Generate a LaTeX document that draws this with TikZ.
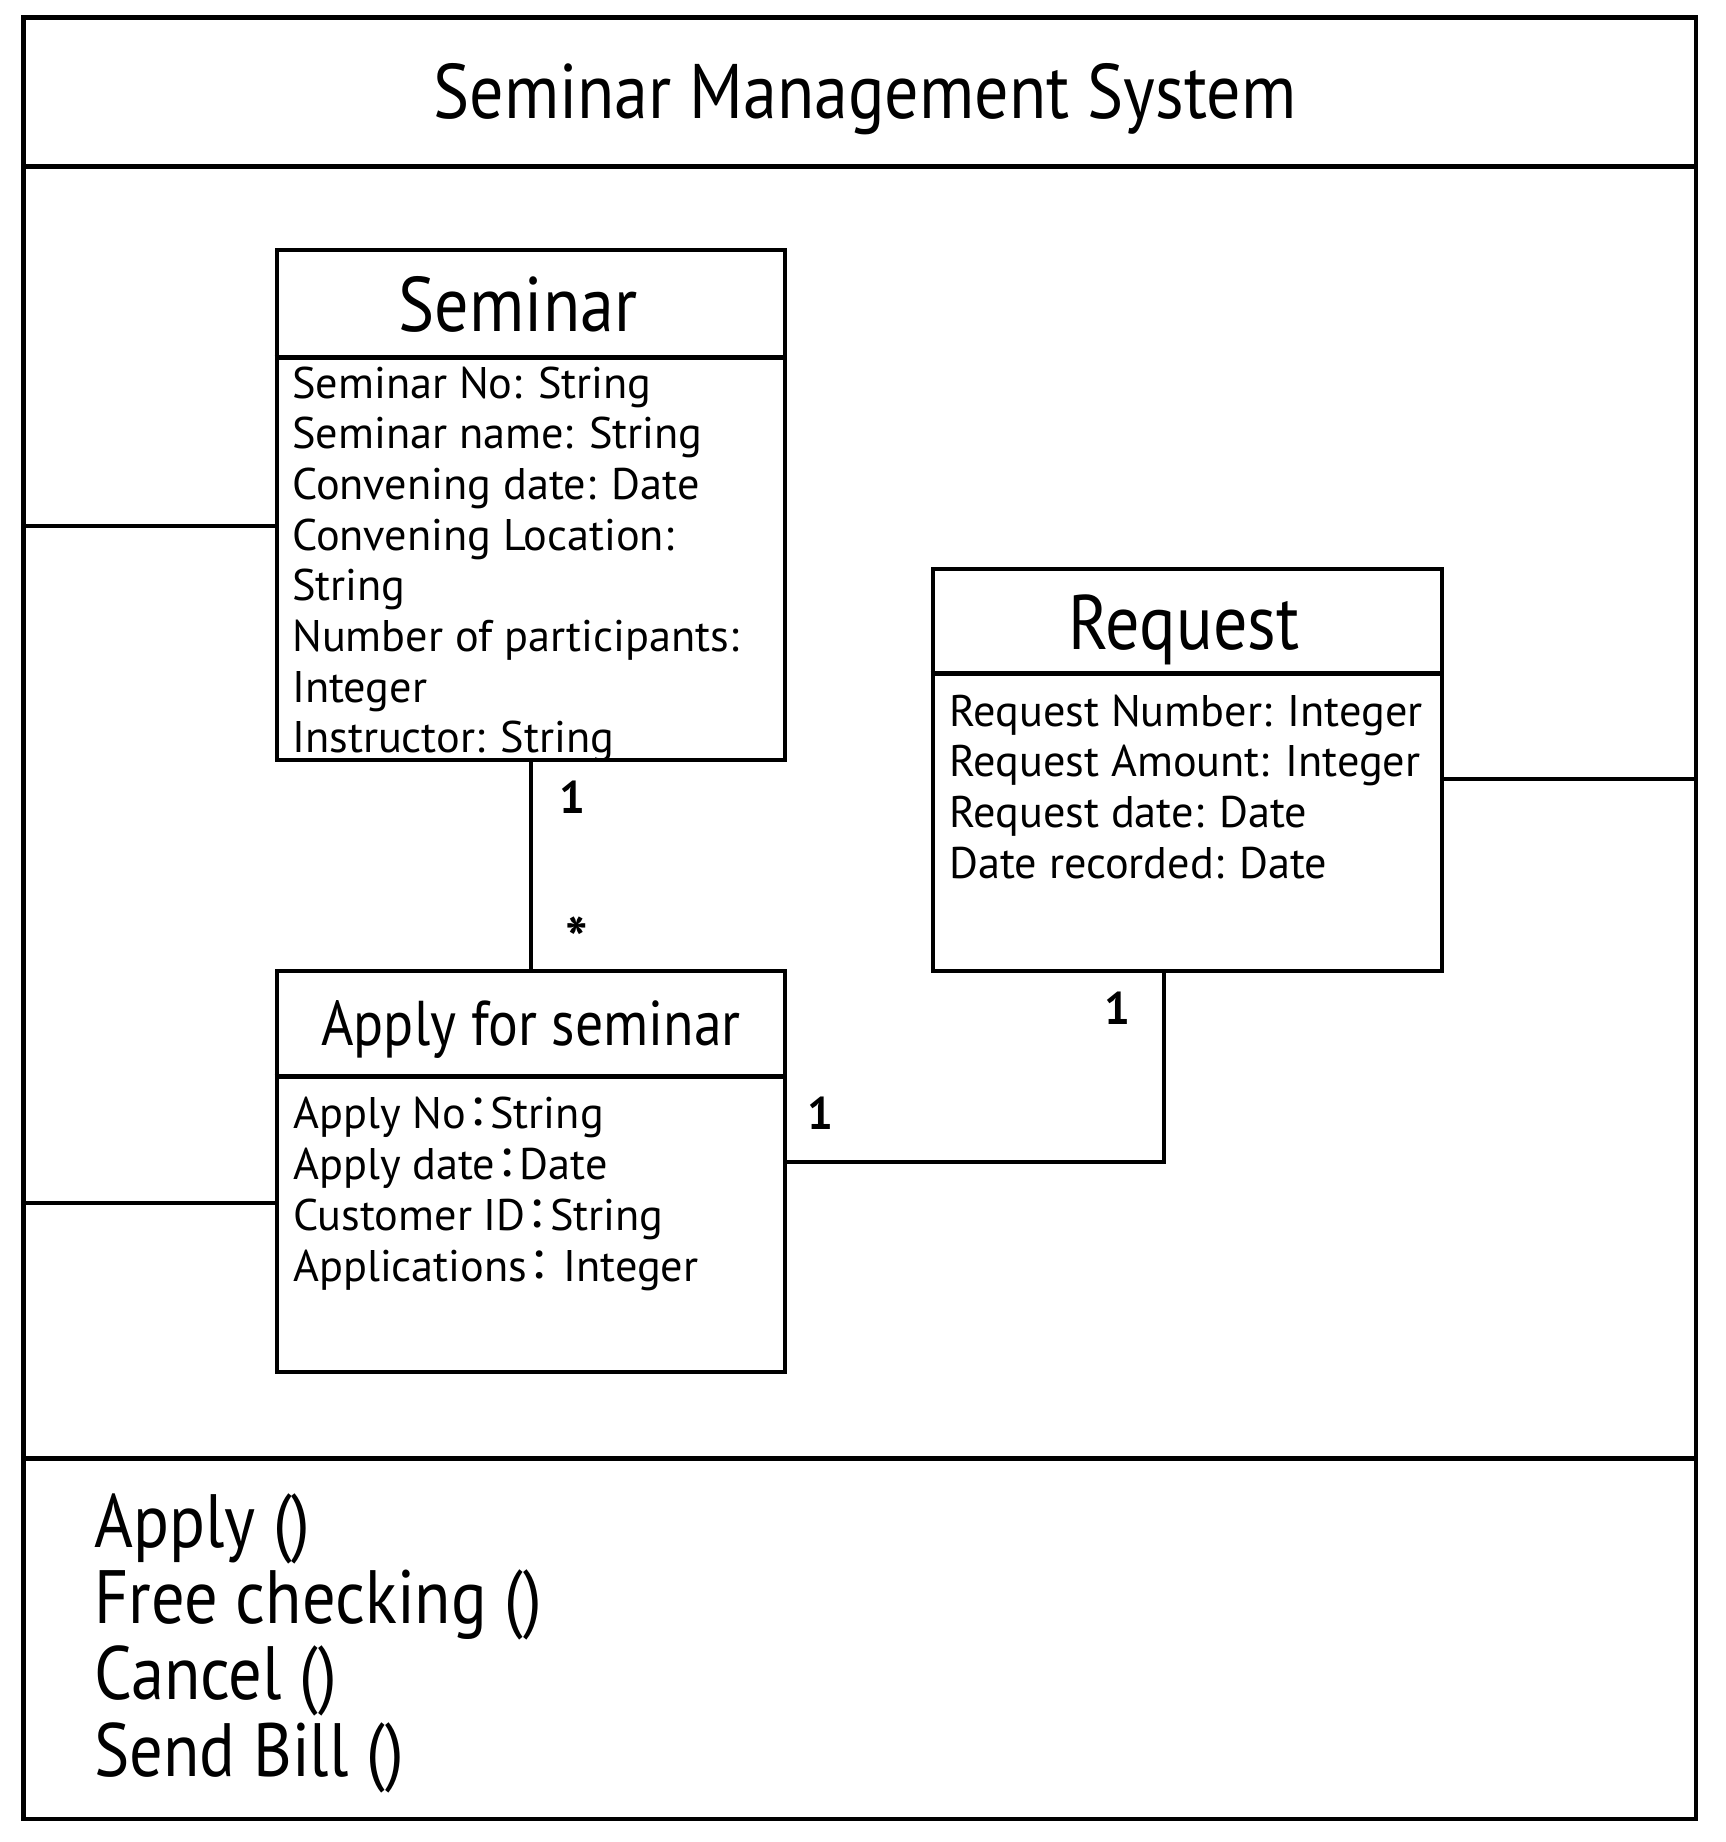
\documentclass[tikz,border=0pt]{standalone}
\usepackage{fontspec}
\setmainfont{PT Sans}
\newfontfamily\narrowfont[FakeStretch=0.88]{PT Sans}
\newfontfamily\cjk{Noto Sans CJK JP}
\newcommand{\wcolon}{\makebox[0.55em]{\cjk ：}}
\begin{document}
\begin{tikzpicture}[line width=1.3pt,
    box/.style={draw, rectangle, inner sep=0pt},
    attr/.style={anchor=base west, inner sep=0pt, font=\fontsize{12.6}{15}\selectfont},
    head/.style={anchor=base, inner sep=0pt, font=\narrowfont\fontsize{22}{26}\selectfont},
    mult/.style={inner sep=0pt, font=\fontsize{13}{15}\selectfont\bfseries},
    oper/.style={anchor=base west, inner sep=0pt, font=\narrowfont\fontsize{21.5}{26}\selectfont}]
    \useasboundingbox (0,0) rectangle (17.25,-18.42);
    % system frame
    \node[box, minimum width=16.725cm, minimum height=18.014cm] (frame) at (8.5975,-9.183) {};
    \draw ([yshift=-1.51cm]frame.north west) -- ([yshift=-1.51cm]frame.north east);
    \draw ([yshift=3.63cm]frame.south west) -- ([yshift=3.63cm]frame.south east);
    \node[head] (title) at (8.65,-1.19) {Seminar Management System};
    % classes
    \node[box, minimum width=5.08cm, minimum height=5.10cm] (seminar) at (5.31,-5.05) {};
    \node[box, minimum width=5.09cm, minimum height=4.02cm] (request) at (11.875,-7.70) {};
    \node[box, minimum width=5.08cm, minimum height=4.01cm] (apply) at (5.31,-11.715) {};
    \draw ([yshift=-1.10cm]seminar.north west) -- ([yshift=-1.10cm]seminar.north east);
    \draw ([yshift=-1.07cm]request.north west) -- ([yshift=-1.07cm]request.north east);
    \draw ([yshift=-1.08cm]apply.north west) -- ([yshift=-1.08cm]apply.north east);
    \node[head] (seminar-name) at (5.18,-3.31) {Seminar};
    \node[head] (request-name) at (11.84,-6.49) {Request};
    \node[head, font=\narrowfont\fontsize{18}{22}\selectfont] (apply-name) at (5.31,-10.45) {Apply for seminar};
    \foreach \t [count=\i] in {Seminar No: String, Seminar name: String, Convening date: Date,
        Convening Location:, String, Number of participants:, Integer, Instructor: String}
        \node[attr] (seminar-\i) at (2.90,-3.98-0.507*\i+0.507) {\t};
    \foreach \t [count=\i] in {Request Number: Integer, Request Amount: Integer,
        Request date: Date, Date recorded: Date}
        \node[attr] (request-\i) at (9.47,-7.26-0.507*\i+0.507) {\t};
    \foreach \t [count=\i] in {Apply No\wcolon String, Apply date\wcolon Date,
        Customer ID\wcolon String, Applications\wcolon\ Integer}
        \node[attr] (apply-\i) at (2.91,-11.28-0.513*\i+0.513) {\t};
    % operations
    \foreach \t [count=\i] in {Apply (), Free checking (), Cancel (), Send Bill ()}
        \node[oper] (op-\i) at (0.92,-15.47-0.764*\i+0.764) {\t};
    % links
    \coordinate (left1) at (0.235,-5.26);
    \coordinate (left2) at (0.235,-12.03);
    \coordinate (right1) at (16.96,-7.79);
    \coordinate (bend) at (11.64,-11.62);
    \draw (left1) -- (left1 -| seminar.west);
    \draw (left2) -- (left2 -| apply.west);
    \draw (right1) -- (right1 -| request.east);
    \draw (seminar.south) -- (apply.north);
    \draw (bend -| apply.east) -- (bend) -- (bend |- request.south);
    \node[mult] (m1) at (5.72,-7.97) {1};
    \node[mult, font=\fontsize{17}{19}\selectfont\bfseries] (m2) at (5.77,-9.39) {*};
    \node[mult] (m3) at (11.17,-10.08) {1};
    \node[mult] (m4) at (8.20,-11.13) {1};
\end{tikzpicture}
\end{document}
